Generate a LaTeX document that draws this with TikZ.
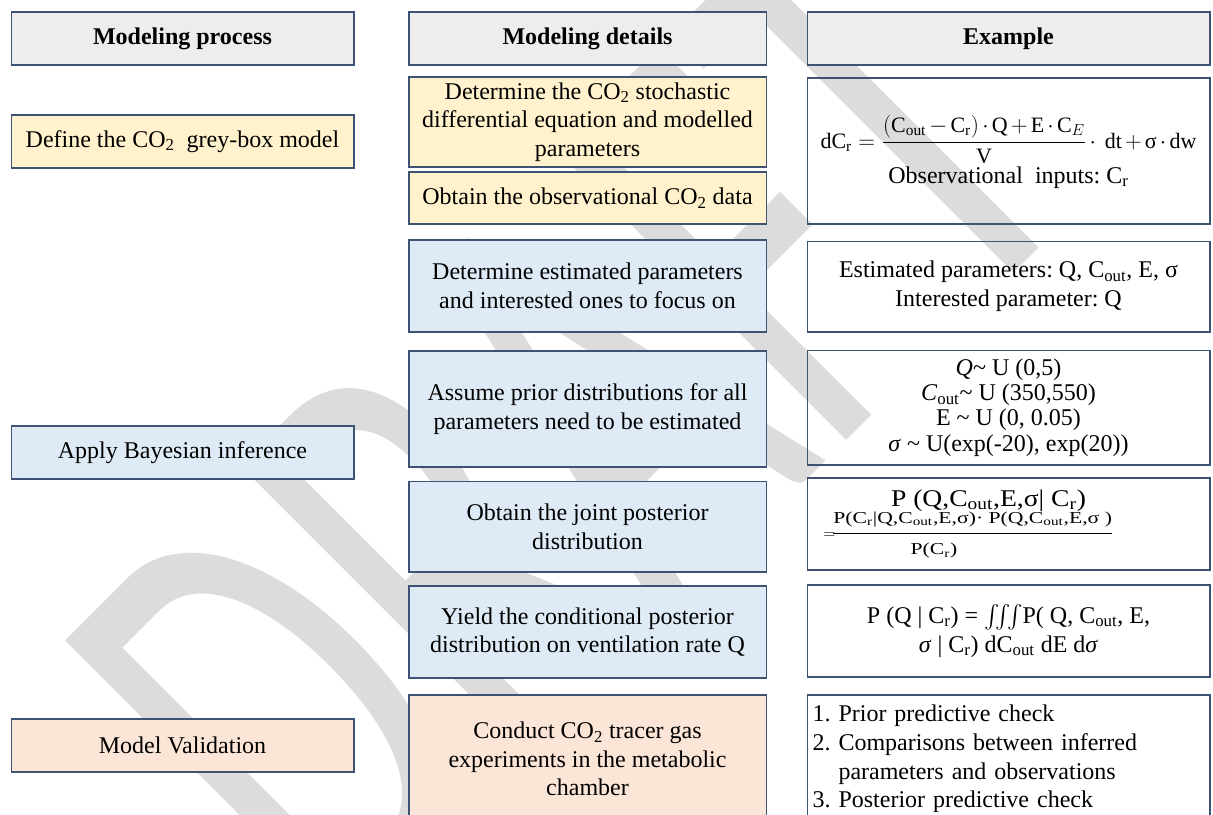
\documentclass[tikz,border=0pt]{standalone}
\usepackage{amsmath}
\usepackage{graphicx}
\usepackage{fontspec}
\setmainfont{Liberation Serif}
\newfontfamily\draftfont{Carlito}
\frenchspacing
\definecolor{FrameNavy}{HTML}{3E5374}
\definecolor{HeadGray}{HTML}{EDEDED}
\definecolor{StepGold}{HTML}{FFF2CC}
\definecolor{StepBlue}{HTML}{DEEBF7}
\definecolor{StepPeach}{HTML}{FBE5D6}
\definecolor{DraftGray}{HTML}{DCDCDC}

\begin{document}
\begin{tikzpicture}[
    x=0.75pt, y=-0.75pt,
    font=\fontsize{18}{21.5}\selectfont,
    cellbox/.style={draw=FrameNavy, line width=1pt, align=center, inner sep=4pt},
    headbox/.style={cellbox, fill=HeadGray, minimum height=39.75pt, font=\fontsize{18}{21.5}\selectfont\bfseries},
    colL/.style={minimum width=257pt},
    colM/.style={minimum width=268pt},
    colR/.style={minimum width=302pt}
]

  \useasboundingbox (0,0) rectangle (1213,814);
  \clip (0,0) rectangle (1213,814);

  % Marca d'agua
  \node[rotate=45, anchor=base west, text=DraftGray, inner sep=0pt, font=\draftfont\fontsize{300}{300}\selectfont] (draft) at (336,951) {\scalebox{1}[1.6]{DRAFT}};

  % =========================================================================
  % CABECALHOS
  % =========================================================================
  \node[headbox, colL] (h_proc) at (182.5,38.5) {Modeling process};
  \node[headbox, colM] (h_det) at (587.5,38.5) {Modeling details};
  \node[headbox, colR] (h_ex) at (1008.5,38.5) {Example};

  % =========================================================================
  % COLUNA 1: PROCESSO
  % =========================================================================
  \node[cellbox, colL, fill=StepGold, minimum height=39.75pt] (p_def) at (182.5,141.5) {Define the CO\textsubscript{2}\ \ grey-box\ model};
  \node[cellbox, colL, fill=StepBlue, minimum height=39.75pt] (p_bay) at (182.5,452.5) {Apply Bayesian inference};
  \node[cellbox, colL, fill=StepPeach, minimum height=39.75pt] (p_val) at (182.5,745.5) {Model Validation};

  % =========================================================================
  % COLUNA 2: DETALHES
  % =========================================================================
  \node[cellbox, colM, fill=StepGold, minimum height=64pt] (d_sde) at (587.5,122) {Determine the CO\textsubscript{2} stochastic\\differential equation and modelled\\parameters};
  \node[cellbox, colM, fill=StepGold, minimum height=39pt] (d_obs) at (587.5,198) {Obtain the observational CO\textsubscript{2} data};
  \node[cellbox, colM, fill=StepBlue, minimum height=69pt] (d_est) at (587.5,286) {Determine estimated parameters\\and interested ones to focus\ on};
  \node[cellbox, colM, fill=StepBlue, minimum height=87pt] (d_pri) at (587.5,409) {Assume prior distributions for all\\parameters need to be estimated};
  \node[cellbox, colM, fill=StepBlue, minimum height=68pt] (d_jnt) at (587.5,526.5) {Obtain the joint posterior\\distribution};
  \node[cellbox, colM, fill=StepBlue, minimum height=69pt] (d_cnd) at (587.5,632) {Yield the conditional posterior\\distribution on ventilation rate Q};
  \node[cellbox, colM, fill=StepPeach, minimum height=96pt] (d_exp) at (587.5,759) {Conduct CO\textsubscript{2} tracer gas\\experiments in the metabolic\\chamber};

  % =========================================================================
  % COLUNA 3: EXEMPLOS
  % =========================================================================
  \node[cellbox, colR, minimum height=109.5pt] (e_sde) at (1008.5,151) {%
    \rule{0pt}{26pt}{\fontsize{16.5}{20}\selectfont\medmuskip=2.5mu
    $\mathrm{dC_r} = \dfrac{(\mathrm{C_{out}} - \mathrm{C_r})\cdot\mathrm{Q} + \mathrm{E}\cdot\mathrm{C}_{E}}{\mathrm{V}}\cdot\ \mathrm{dt} + \text{σ}\cdot\mathrm{dw}$}\\[1pt]
    Observational\ \ inputs: $\mathrm{C_r}$};
  \node[cellbox, colR, minimum height=68pt] (e_est) at (1008.5,286.5) {Estimated parameters: Q, C\textsubscript{out}, E, σ\\Interested parameter: Q};
  \node[cellbox, colR, minimum height=86pt, font=\fontsize{18}{19}\selectfont] (e_pri) at (1008.5,407.5) {%
    \textit{Q}\textasciitilde\ U (0,5)\\
    \textit{C}\textsubscript{out}\textasciitilde\ U (350,550)\\
    E \textasciitilde\ U (0, 0.05)\\
    \textit{σ} \textasciitilde\ U(exp(-20), exp(20))};
  \node[cellbox, colR, minimum height=69pt] (e_jnt) at (1008.5,524) {%
    \scalebox{1.15}[1]{P (Q,C\textsubscript{out},E,σ| C\textsubscript{r})}\hspace*{30pt}\\[-1pt]
    ${\scriptstyle=}\!\dfrac{\scalebox{1.3}[1]{\fontsize{12.5}{14}\selectfont P(C\textsubscript{r}|Q,C\textsubscript{out},E,σ)· P(Q,C\textsubscript{out},E,σ )}}{\scalebox{1.3}[1]{\fontsize{12.5}{14}\selectfont P(C\textsubscript{r})}}$\hspace*{60pt}};
  \node[cellbox, colR, minimum height=69pt] (e_cnd) at (1008.5,631) {%
    P (Q | C\textsubscript{r}) = $\iiint$P( Q, C\textsubscript{out}, E,\\
    \textit{σ} | C\textsubscript{r}) dC\textsubscript{out} dE d\textit{σ}};
  \node[cellbox, colR, minimum height=96pt, align=left, inner xsep=3pt, text width=294pt] (e_chk) at (1008.5,759) {%
    1. Prior predictive check\\
    2. Comparisons between inferred\\
    \phantom{2. }parameters and observations\\
    3. Posterior predictive check};

\end{tikzpicture}
\end{document}
